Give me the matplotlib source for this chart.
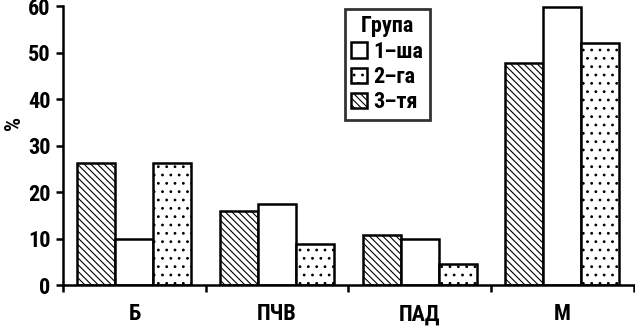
import matplotlib
matplotlib.use('Agg')
import matplotlib.pyplot as plt
import numpy as np

plt.rcParams['font.family'] = ['Roboto Condensed', 'DejaVu Sans']
plt.rcParams['hatch.linewidth'] = 0.8

categories = ["Б", "ПЧВ", "ПАД", "М"]
# bar order inside each category: 3-тя, 1-ша, 2-га
group_names = ["3-тя", "1-ша", "2-га"]
group3 = [26.3, 16.0, 10.8, 47.7]
group1 = [9.8, 17.4, 9.9, 59.7]
group2 = [26.3, 8.9, 4.5, 52.1]

fig = plt.figure(figsize=(6.35, 3.29), dpi=100)
ax = fig.add_axes([0.0992, 0.1337, 0.8988, 0.848])

x = np.arange(len(categories))
w = 0.8 / 3
styles = {"3-тя": "\\\\\\\\\\", "1-ша": "", "2-га": ".."}
bars = {}
for i, (name, vals) in enumerate(zip(group_names, [group3, group1, group2])):
    bars[name] = ax.bar(x + (i - 1) * w, vals, width=w, color="white",
                        edgecolor="black", linewidth=1.8, hatch=styles[name])

fs = 16
ax.set_xlim(-0.5, len(categories) - 0.5)
ax.set_ylim(0, 60)
ax.set_yticks(range(0, 61, 10))
ax.set_xticks(np.arange(-0.5, len(categories), 1.0))
ax.set_xticklabels([])
ax.set_xticks(x, minor=True)
ax.set_xticklabels(categories, minor=True)
ax.tick_params(axis='x', which='minor', length=0, pad=13, labelsize=fs)
ax.tick_params(axis='x', which='major', length=5, width=1.8, direction='out')
ax.tick_params(axis='y', length=5, width=1.8, direction='out', labelsize=fs, pad=4)
for lab in ax.get_yticklabels() + ax.get_xticklabels(minor=True):
    lab.set_fontweight('bold')

for side in ("top", "right"):
    ax.spines[side].set_visible(False)
for side in ("left", "bottom"):
    ax.spines[side].set_linewidth(1.8)
ax.set_ylabel("%", fontsize=fs, fontweight='bold')
ax.yaxis.set_label_coords(-0.066, 0.58)

handles = [bars["1-ша"], bars["2-га"], bars["3-тя"]]
leg = ax.legend(handles, ["1–ша", "2–га", "3–тя"], title="Група",
                loc="upper left", bbox_to_anchor=(0.474, 1.03),
                frameon=True, fancybox=False, edgecolor="black",
                prop={'size': fs, 'weight': 'bold'},
                handlelength=0.7, handleheight=0.7, handletextpad=0.3,
                labelspacing=0.15, borderpad=0.3)
leg.get_title().set_fontsize(fs)
leg.get_title().set_fontweight('bold')
leg.get_frame().set_linewidth(2.0)

fig.savefig("out.png", dpi=100)
